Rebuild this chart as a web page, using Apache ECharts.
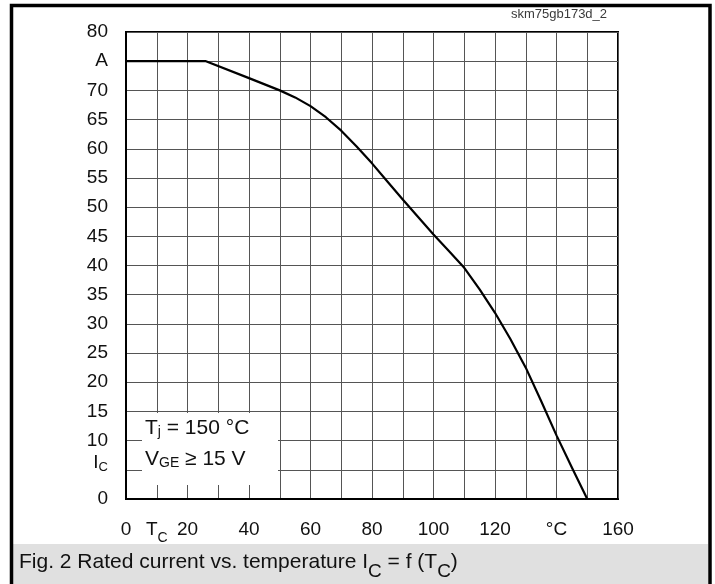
<!DOCTYPE html>
<html>
<head>
<meta charset="utf-8">
<script src="https://cdn.jsdelivr.net/npm/echarts@6/dist/echarts.min.js"></script>
<style>
html,body{margin:0;padding:0;background:#fff;}
#c{width:715px;height:584px;}
</style>
</head>
<body>
<div id="c"></div>
<script>
// ---- data ----
const tempC   = [0, 26, 40, 50, 55, 60, 65, 70, 75, 80, 85, 90, 95, 100, 105, 110, 115, 120, 125, 130, 135, 140, 145, 150];
const currentA = [75, 75, 72.1, 70.0, 68.8, 67.3, 65.4, 63.1, 60.4, 57.5, 54.4, 51.3, 48.3, 45.3, 42.5, 39.6, 35.9, 31.9, 27.4, 22.5, 16.8, 10.9, 5.4, 0];
const xTicks = [0, 10, 20, 30, 40, 50, 60, 70, 80, 90, 100, 110, 120, 130, 140, 150, 160];
const xTickText = ['0', 'T_C', '20', '', '40', '', '60', '', '80', '', '100', '', '120', '', '°C', '', '160'];
const yTicks = [0, 5, 10, 15, 20, 25, 30, 35, 40, 45, 50, 55, 60, 65, 70, 75, 80];
const yTickText = ['0', 'I_C', '10', '15', '20', '25', '30', '35', '40', '45', '50', '55', '60', '65', '70', 'A', '80'];
const noteLines = ['T_j = 150 °C', 'V_GE ≥ 15 V'];
const captionText = 'Fig. 2 Rated current vs. temperature I_C = f (T_C)';
const idText = 'skm75gb173d_2';

// ---- helpers ----
function toRich(t, m, s) {
  if (!t) return '';
  const parts = t.split(/_([A-Za-z]+)/);
  let out = '';
  for (let i = 0; i < parts.length; i++) {
    if (!parts[i]) continue;
    out += '{' + (i % 2 ? s : m) + '|' + parts[i] + '}';
  }
  return out;
}
const FONT = '"Liberation Sans", Arial, Helvetica, sans-serif';
const seriesData = tempC.map((t, i) => [t, currentA[i]]);

const chart = echarts.init(document.getElementById('c'), null, {renderer: 'canvas'});
chart.setOption({
  animation: false,
  backgroundColor: '#fff',
  grid: {left: 126, right: 97, top: 32, bottom: 85, show: true, borderColor: '#000', borderWidth: 2, backgroundColor: 'transparent'},
  xAxis: {
    type: 'value', min: 0, max: 160, interval: 10,
    axisLine: {show: true, onZero: false, lineStyle: {color: '#000', width: 2}},
    axisTick: {show: false},
    splitLine: {show: true, lineStyle: {color: '#555', width: 1}},
    axisLabel: {
      margin: 20, color: '#111', fontFamily: FONT,
      formatter: v => toRich(xTickText[xTicks.indexOf(v)], 'm', 's'),
      rich: {
        m: {fontSize: 19, lineHeight: 22, fontFamily: FONT, color: '#111'},
        s: {fontSize: 14, lineHeight: 22, fontFamily: FONT, color: '#111', padding: [16, 0, 0, 0]}
      }
    }
  },
  yAxis: {
    type: 'value', min: 0, max: 80, interval: 5,
    axisLine: {show: true, onZero: false, lineStyle: {color: '#000', width: 2}},
    axisTick: {show: false},
    splitLine: {show: true, lineStyle: {color: '#555', width: 1}},
    axisLabel: {
      margin: 18, color: '#111', fontFamily: FONT,
      formatter: v => {
        const t = yTickText[yTicks.indexOf(v)];
        return t && t.indexOf('_') >= 0 ? toRich(t, 'ym', 'ys') : toRich(t, 'm', 's');
      },
      rich: {
        m: {fontSize: 19, lineHeight: 22, fontFamily: FONT, color: '#111'},
        ym: {fontSize: 19, lineHeight: 22, fontFamily: FONT, color: '#111', padding: [0, 0, 14, 0]},
        ys: {fontSize: 13, lineHeight: 22, fontFamily: FONT, color: '#111', padding: [0, 0, 4, 0]}
      }
    }
  },
  series: [{
    type: 'line', data: seriesData, showSymbol: false, smooth: false,
    lineStyle: {color: '#000', width: 2.2, join: 'round'}, z: 5
  }],
  graphic: [
    {type: 'rect', z: 100, shape: {x: 142, y: 413, width: 136, height: 72}, style: {fill: '#fff'}},
    {type: 'text', z: 101, style: {x: 145, y: 428, text: toRich(noteLines[0], 'm', 's'), textVerticalAlign: 'middle', textAlign: 'left',
      rich: {m: {fontSize: 21, lineHeight: 24, fontFamily: FONT, fill: '#111', color: '#111'}, s: {fontSize: 14, lineHeight: 24, fontFamily: FONT, fill: '#111', color: '#111', padding: [9, 0, 0, 0]}}}},
    {type: 'text', z: 101, style: {x: 145, y: 459, text: toRich(noteLines[1], 'm', 's'), textVerticalAlign: 'middle', textAlign: 'left',
      rich: {m: {fontSize: 21, lineHeight: 24, fontFamily: FONT, fill: '#111', color: '#111'}, s: {fontSize: 14, lineHeight: 24, fontFamily: FONT, fill: '#111', color: '#111', padding: [8, 0, 0, 0]}}}},
    {type: 'rect', z: 110, shape: {x: 13, y: 544, width: 695, height: 42}, style: {fill: '#e0e0e0'}},
    {type: 'text', z: 111, style: {x: 19, y: 562, text: toRich(captionText, 'm', 's'), textVerticalAlign: 'middle', textAlign: 'left',
      rich: {m: {fontSize: 21, lineHeight: 24, fontFamily: FONT, fill: '#111', color: '#111'}, s: {fontSize: 19, lineHeight: 24, fontFamily: FONT, fill: '#111', color: '#111', padding: [20, 0, 0, 0]}}}},
    {type: 'text', z: 111, style: {x: 559, y: 14, text: idText, textVerticalAlign: 'middle', textAlign: 'center', fontSize: 13, fontFamily: FONT, fill: '#3a3a3a'}},
    {type: 'rect', z: 120, shape: {x: 11.5, y: 5.5, width: 698.5, height: 600}, style: {fill: 'none', stroke: '#000', lineWidth: 3.5}}
  ]
});
</script>
</body>
</html>
